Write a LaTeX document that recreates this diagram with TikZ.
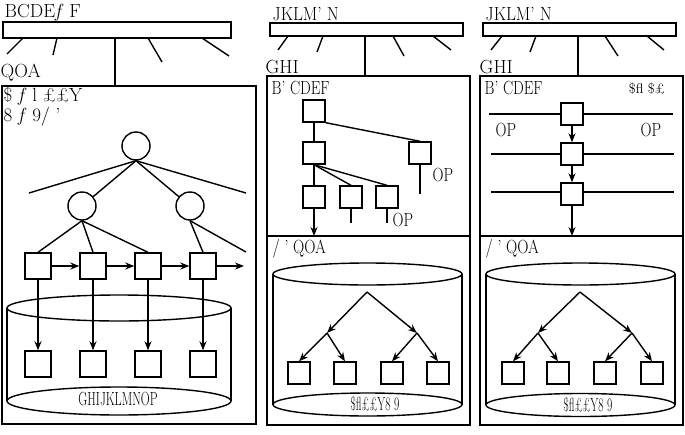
\documentclass[tikz,border=0pt]{standalone}
\usepackage{graphicx}
\usetikzlibrary{arrows.meta}
\begin{document}
\begin{tikzpicture}[x=1pt,y=-1pt,line width=1.4pt,
  sqb/.style={draw,minimum size=26pt,inner sep=0pt},
  sqs/.style={draw,minimum size=22pt,inner sep=0pt},
  circ/.style={draw,circle,minimum size=28pt,inner sep=0pt},
  bar/.style={draw,inner sep=0pt},
  panel/.style={draw,inner sep=0pt},
  lbl/.style={font=\fontsize{19}{19}\selectfont,inner sep=0pt,anchor=west},
  clbl/.style={font=\fontsize{19}{19}\selectfont,inner sep=0pt},
  slbl/.style={font=\fontsize{14}{14}\selectfont,inner sep=0pt},
  arr/.style={-{Stealth[length=9pt,width=7pt]}}]
\useasboundingbox (0,0) rectangle (685,434);

% ===== left panel =====
\node[lbl] (t1) at (4,13) {BCDE\textit{f} F};
\node[bar,minimum width=228pt,minimum height=16pt] (bar1) at (117,30) {};
\draw (23,38) -- (7,54);
\draw (57,38) -- (53,55);
\draw (148,38) -- (162,62);
\draw (202,38) -- (229,56);
\node[lbl] (q1) at (0,73) {QOA};
\node[panel,minimum width=254pt,minimum height=338pt] (box1) at (129,255) {};
\draw (115,38) -- (115,86);
\node[lbl] (s1) at (3,96) {\$ \textit{f} l ££Y};
\node[lbl] (s2) at (3,117) {8 \textit{f} 9/ '};

\node[circ] (r) at (136,146) {};
\node[circ] (c1) at (82,206) {};
\node[circ] (c2) at (190,206) {};
\coordinate (rl) at (29,193);
\coordinate (rr) at (246,193);
\draw (r.south) -- (rl);
\draw (r.south) -- (rr);
\draw (r.south) -- (c1);
\draw (r.south) -- (c2);

\node[sqb] (u1) at (38,266) {};
\node[sqb] (u2) at (93,266) {};
\node[sqb] (u3) at (148,266) {};
\node[sqb] (u4) at (203,266) {};
\coordinate (ue) at (246,252);
\coordinate (ua) at (244,266);
\draw (c1.south) -- (u1.north);
\draw (c1.south) -- (u2.north);
\draw (c1.south) -- (u3.north);
\draw (c2.south) -- (u4.north);
\draw (c2.south) -- (ue);
\draw[arr] (u1.east) -- (u2.west);
\draw[arr] (u2.east) -- (u3.west);
\draw[arr] (u3.east) -- (u4.west);
\draw[arr] (u4.east) -- (ua);

% cylinder
\draw (119,308) ellipse [x radius=112, y radius=13];
\draw (119,401) ellipse [x radius=112, y radius=14];
\draw (7,308) -- (7,401);
\draw (231,308) -- (231,401);

\node[sqb] (l1) at (38,364) {};
\node[sqb] (l2) at (93,364) {};
\node[sqb] (l3) at (148,364) {};
\node[sqb] (l4) at (203,364) {};
\draw[arr] (u1.south) -- (l1.north);
\draw[arr] (u2.south) -- (l2.north);
\draw[arr] (u3.south) -- (l3.north);
\draw[arr] (u4.south) -- (l4.north);
\node[clbl] (g1) at (118,399) {\scalebox{0.65}[1]{GHIJKLMNOP}};

% ===== middle panel =====
\node[lbl] (t2) at (272,14) {\scalebox{0.9}[1]{JKLM' N}};
\node[bar,minimum width=193pt,minimum height=13pt] (bar2) at (366.5,29.5) {};
\draw (288,36) -- (278,50);
\draw (323,36) -- (317,52);
\draw (393,36) -- (404,56);
\draw (433,36) -- (451,50);
\draw (365,36) -- (365,76);
\node[lbl] (g2) at (265,67) {GHI};
\node[panel,minimum width=203pt,minimum height=160pt] (box2a) at (368.5,156) {};
\node[panel,minimum width=203pt,minimum height=189pt] (box2b) at (368.5,330.5) {};
\node[lbl] (h2) at (271,88) {\scalebox{0.8}[1]{B' CDEF}};

\node[sqs] (a1) at (314,111) {};
\node[sqs] (a2) at (314,153) {};
\node[sqs] (a3) at (420,153) {};
\node[sqs] (b1) at (314,197) {};
\node[sqs] (b2) at (351,197) {};
\node[sqs] (b3) at (387,197) {};
\draw (a1.south east) -- (a3.north);
\draw (a1.south) -- (a2.north);
\draw (a2.south) -- (b1.north);
\draw (a2.south) -- (b2.north);
\draw (a2.south) -- (b3.north);
\coordinate (b2e) at (351,223);
\coordinate (b3e) at (387,223);
\coordinate (a3e) at (420,194);
\draw (b2.south) -- (b2e);
\draw (b3.south) -- (b3e);
\draw (a3.south) -- (a3e);
\node[lbl] (op1) at (392,220) {\scalebox{0.8}[1]{OP}};
\node[lbl] (op2) at (432,175) {\scalebox{0.8}[1]{OP}};
\coordinate (b1e) at (314,236);
\draw[arr] (b1.south) -- (b1e);

\node[lbl] (q2) at (272,249) {\scalebox{0.82}[1]{/ ' QOA}};
\draw (367.5,274) ellipse [x radius=94.5, y radius=11];
\draw (367.5,404.5) ellipse [x radius=94.5, y radius=11.5];
\draw (273,274) -- (273,404.5);
\draw (462,274) -- (462,404.5);
\coordinate (ap2) at (367,292);
\coordinate (j21) at (327,333);
\coordinate (j22) at (417,333);
\node[sqs] (d1) at (299,373) {};
\node[sqs] (d2) at (345,373) {};
\node[sqs] (d3) at (392,373) {};
\node[sqs] (d4) at (438,373) {};
\draw[arr] (ap2) -- (j21);
\draw[arr] (ap2) -- (j22);
\draw[arr] (j21) -- (d1.north);
\draw[arr] (j21) -- (d2.north);
\draw[arr] (j22) -- (d3.north);
\draw[arr] (j22) -- (d4.north);
\node[clbl] (w2) at (375,404) {\scalebox{0.6}[1]{\$fl££Y8 9}};

% ===== right panel =====
\node[lbl] (t3) at (485,14) {\scalebox{0.9}[1]{JKLM' N}};
\node[bar,minimum width=193pt,minimum height=13pt] (bar3) at (579.5,29.5) {};
\draw (502,36) -- (491,50);
\draw (536,36) -- (530,52);
\draw (605,36) -- (618,56);
\draw (647,36) -- (664,50);
\draw (578,36) -- (578,76);
\node[lbl] (g3) at (479,67) {GHI};
\node[panel,minimum width=203pt,minimum height=160pt] (box3a) at (581.5,156) {};
\node[panel,minimum width=203pt,minimum height=189pt] (box3b) at (581.5,330.5) {};
\node[lbl] (h3) at (484,88) {\scalebox{0.8}[1]{B' CDEF}};
\node[slbl] (z3) at (647,89) {\$fl \$£};

\node[sqs] (e1) at (572,114) {};
\node[sqs] (e2) at (572,154) {};
\node[sqs] (e3) at (572,194) {};
\coordinate (e1l) at (489,114);
\coordinate (e1r) at (673,114);
\coordinate (e2l) at (491,154);
\coordinate (e2r) at (674,154);
\coordinate (e3l) at (491,192);
\coordinate (e3r) at (674,192);
\draw (e1l) -- (e1.west);
\draw (e1.east) -- (e1r);
\draw (e2l) -- (e2.west);
\draw (e2.east) -- (e2r);
\draw (e3l) -- (e3.west |- e3l);
\draw (e3.east |- e3r) -- (e3r);
\node[lbl] (op3) at (495,130) {\scalebox{0.8}[1]{OP}};
\node[lbl] (op4) at (640,130) {\scalebox{0.8}[1]{OP}};
\coordinate (e3e) at (572,236);
\draw[arr] (e1.south) -- (e2.north);
\draw[arr] (e2.south) -- (e3.north);
\draw[arr] (e3.south) -- (e3e);

\node[lbl] (q3) at (485,249) {\scalebox{0.82}[1]{/ ' QOA}};
\draw (580.5,274) ellipse [x radius=94.5, y radius=11];
\draw (580.5,405) ellipse [x radius=94.5, y radius=11.5];
\draw (486,274) -- (486,405);
\draw (675,274) -- (675,405);
\coordinate (ap3) at (580,292);
\coordinate (j31) at (538,333);
\coordinate (j32) at (632,333);
\node[sqs] (f1) at (513,373) {};
\node[sqs] (f2) at (558,373) {};
\node[sqs] (f3) at (605,373) {};
\node[sqs] (f4) at (652,373) {};
\draw[arr] (ap3) -- (j31);
\draw[arr] (ap3) -- (j32);
\draw[arr] (j31) -- (f1.north);
\draw[arr] (j31) -- (f2.north);
\draw[arr] (j32) -- (f3.north);
\draw[arr] (j32) -- (f4.north);
\node[clbl] (w3) at (588,405) {\scalebox{0.6}[1]{\$fl££Y8 9}};
\end{tikzpicture}
\end{document}
